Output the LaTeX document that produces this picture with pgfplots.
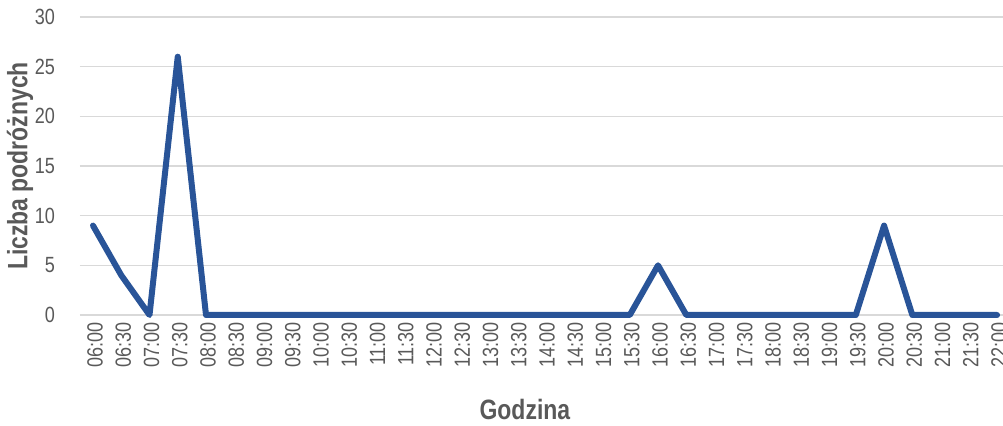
\documentclass[border=0pt]{standalone}
\usepackage{pgfplots}
\pgfplotsset{compat=1.18}
\usepackage{fontspec}
\setmainfont[FakeStretch=0.82]{Liberation Sans}
\definecolor{linecol}{RGB}{41,84,152}
\definecolor{txtgray}{RGB}{89,89,89}
\definecolor{gridgray}{RGB}{217,217,217}
\begin{document}
\begin{tikzpicture}
\begin{axis}[
    scale only axis,
    width=461.5pt, height=149pt,
    xmin=-0.46, xmax=32.21,
    ymin=0, ymax=30,
    ytick={0,5,10,15,20,25,30},
    xtick={0,...,32},
    xticklabels={06:00,06:30,07:00,07:30,08:00,08:30,09:00,09:30,10:00,10:30,11:00,11:30,12:00,12:30,13:00,13:30,14:00,14:30,15:00,15:30,16:00,16:30,17:00,17:30,18:00,18:30,19:00,19:30,20:00,20:30,21:00,21:30,22:00},
    axis line style={draw=none},
    tick style={draw=none},
    ymajorgrids=true,
    grid style={gridgray, line width=0.6pt},
    font=\fontsize{11pt}{13pt}\selectfont,
    ticklabel style={text=txtgray},
    yticklabel style={xshift=-9pt},
    xticklabel style={rotate=90, anchor=east, yshift=-1pt},
    /pgf/number format/assume math mode=true,
    xlabel={Godzina},
    ylabel={Liczba podróżnych},
    label style={text=txtgray, font=\fontsize{14pt}{16pt}\selectfont\bfseries},
    xlabel style={at={(axis description cs:0.482,0)}, anchor=center, yshift=-47.5pt},
    ylabel style={at={(axis description cs:-0.065,0.5)}, anchor=center},
    clip=false,
]
\addplot[color=linecol, line width=3pt, line join=round, line cap=round, mark=none]
    coordinates {
    (0,9)(1,4)(2,0)(3,26)(4,0)(5,0)(6,0)(7,0)(8,0)(9,0)(10,0)
    (11,0)(12,0)(13,0)(14,0)(15,0)(16,0)(17,0)(18,0)(19,0)(20,5)
    (21,0)(22,0)(23,0)(24,0)(25,0)(26,0)(27,0)(28,9)(29,0)(30,0)
    (31,0)(32,0)
    };
\end{axis}
\pgfresetboundingbox
\path (-40pt,-55.5pt) rectangle (461.5pt,157.5pt);
\end{tikzpicture}
\end{document}
